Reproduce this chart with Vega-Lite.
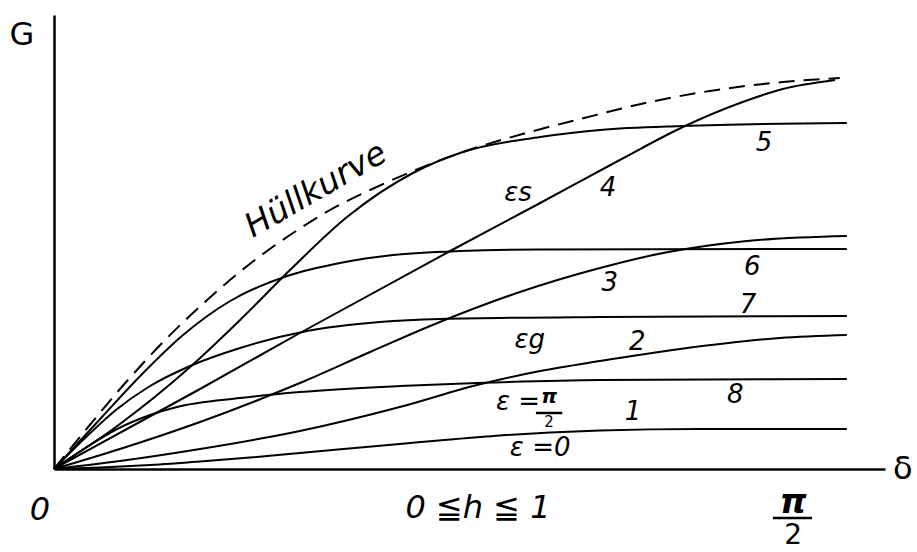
{
  "$schema": "https://vega.github.io/schema/vega-lite/v6.json",
  "width": 831,
  "height": 454,
  "autosize": {"type": "none"},
  "padding": {"left": 54, "top": 15, "right": 32, "bottom": 83},
  "background": "white",
  "view": {"stroke": null},
  "config": {
    "axis": {"domain": true, "domainColor": "black", "domainWidth": 2.5, "ticks": false, "labels": false, "grid": false, "title": null},
    "text": {"font": "DejaVu Sans", "fontStyle": "italic", "color": "black"}
  },
  "datasets": {
    "curves": [
      {"c": "1", "d": 0, "G": 0}, {"c": "1", "d": 0.098, "G": 0.015}, {"c": "1", "d": 0.204, "G": 0.04}, {"c": "1", "d": 0.310, "G": 0.075}, {"c": "1", "d": 0.416, "G": 0.115}, {"c": "1", "d": 0.522, "G": 0.16}, {"c": "1", "d": 0.734, "G": 0.25}, {"c": "1", "d": 0.841, "G": 0.295}, {"c": "1", "d": 0.947, "G": 0.335}, {"c": "1", "d": 1.053, "G": 0.365}, {"c": "1", "d": 1.159, "G": 0.385}, {"c": "1", "d": 1.371, "G": 0.40}, {"c": "1", "d": 1.683, "G": 0.40},
      {"c": "2", "d": 0, "G": 0}, {"c": "2", "d": 0.140, "G": 0.08}, {"c": "2", "d": 0.310, "G": 0.20}, {"c": "2", "d": 0.522, "G": 0.38}, {"c": "2", "d": 0.734, "G": 0.62}, {"c": "2", "d": 0.898, "G": 0.84}, {"c": "2", "d": 1.032, "G": 0.98}, {"c": "2", "d": 1.159, "G": 1.08}, {"c": "2", "d": 1.329, "G": 1.20}, {"c": "2", "d": 1.541, "G": 1.31}, {"c": "2", "d": 1.683, "G": 1.34},
      {"c": "3", "d": 0, "G": 0}, {"c": "3", "d": 0.140, "G": 0.20}, {"c": "3", "d": 0.310, "G": 0.47}, {"c": "3", "d": 0.444, "G": 0.71}, {"c": "3", "d": 0.522, "G": 0.86}, {"c": "3", "d": 0.671, "G": 1.17}, {"c": "3", "d": 0.819, "G": 1.47}, {"c": "3", "d": 0.989, "G": 1.77}, {"c": "3", "d": 1.159, "G": 2.01}, {"c": "3", "d": 1.293, "G": 2.16}, {"c": "3", "d": 1.471, "G": 2.28}, {"c": "3", "d": 1.683, "G": 2.33},
      {"c": "4", "d": 0, "G": 0}, {"c": "4", "d": 0.310, "G": 0.80}, {"c": "4", "d": 0.522, "G": 1.36}, {"c": "4", "d": 0.841, "G": 2.18}, {"c": "4", "d": 1.032, "G": 2.66}, {"c": "4", "d": 1.201, "G": 3.09}, {"c": "4", "d": 1.335, "G": 3.42}, {"c": "4", "d": 1.456, "G": 3.66}, {"c": "4", "d": 1.547, "G": 3.80}, {"c": "4", "d": 1.658, "G": 3.89},
      {"c": "5", "d": 0, "G": 0}, {"c": "5", "d": 0.140, "G": 0.45}, {"c": "5", "d": 0.289, "G": 1.02}, {"c": "5", "d": 0.395, "G": 1.49}, {"c": "5", "d": 0.501, "G": 1.99}, {"c": "5", "d": 0.622, "G": 2.52}, {"c": "5", "d": 0.762, "G": 2.96}, {"c": "5", "d": 0.868, "G": 3.17}, {"c": "5", "d": 1.032, "G": 3.32}, {"c": "5", "d": 1.159, "G": 3.39}, {"c": "5", "d": 1.335, "G": 3.43}, {"c": "5", "d": 1.683, "G": 3.46},
      {"c": "6", "d": 0, "G": 0}, {"c": "6", "d": 0.098, "G": 0.50}, {"c": "6", "d": 0.183, "G": 0.93}, {"c": "6", "d": 0.274, "G": 1.34}, {"c": "6", "d": 0.374, "G": 1.68}, {"c": "6", "d": 0.495, "G": 1.93}, {"c": "6", "d": 0.607, "G": 2.06}, {"c": "6", "d": 0.720, "G": 2.14}, {"c": "6", "d": 0.862, "G": 2.18}, {"c": "6", "d": 1.032, "G": 2.195}, {"c": "6", "d": 1.683, "G": 2.20},
      {"c": "7", "d": 0, "G": 0}, {"c": "7", "d": 0.066, "G": 0.31}, {"c": "7", "d": 0.134, "G": 0.60}, {"c": "7", "d": 0.204, "G": 0.83}, {"c": "7", "d": 0.289, "G": 1.03}, {"c": "7", "d": 0.395, "G": 1.21}, {"c": "7", "d": 0.537, "G": 1.38}, {"c": "7", "d": 0.692, "G": 1.47}, {"c": "7", "d": 0.819, "G": 1.50}, {"c": "7", "d": 1.159, "G": 1.52}, {"c": "7", "d": 1.683, "G": 1.53},
      {"c": "8", "d": 0, "G": 0}, {"c": "8", "d": 0.066, "G": 0.21}, {"c": "8", "d": 0.134, "G": 0.40}, {"c": "8", "d": 0.204, "G": 0.54}, {"c": "8", "d": 0.261, "G": 0.62}, {"c": "8", "d": 0.395, "G": 0.71}, {"c": "8", "d": 0.522, "G": 0.77}, {"c": "8", "d": 0.734, "G": 0.83}, {"c": "8", "d": 0.898, "G": 0.86}, {"c": "8", "d": 1.159, "G": 0.89}, {"c": "8", "d": 1.683, "G": 0.90}
    ],
    "envelope": [
      {"d": 0, "G": 0}, {"d": 0.076, "G": 0.44}, {"d": 0.155, "G": 0.88}, {"d": 0.240, "G": 1.31}, {"d": 0.325, "G": 1.69}, {"d": 0.410, "G": 2.03}, {"d": 0.501, "G": 2.34}, {"d": 0.586, "G": 2.59}, {"d": 0.671, "G": 2.79}, {"d": 0.762, "G": 2.98}, {"d": 0.868, "G": 3.17}, {"d": 1.010, "G": 3.37}, {"d": 1.117, "G": 3.50}, {"d": 1.265, "G": 3.67}, {"d": 1.392, "G": 3.78}, {"d": 1.547, "G": 3.87}, {"d": 1.668, "G": 3.91}
    ],
    "labels": [
      {"k": "num", "t": "1", "d": 1.229, "G": 0.57},
      {"k": "num", "t": "2", "d": 1.238, "G": 1.27},
      {"k": "num", "t": "3", "d": 1.180, "G": 1.86},
      {"k": "num", "t": "4", "d": 1.176, "G": 2.81},
      {"k": "num", "t": "5", "d": 1.507, "G": 3.26},
      {"k": "num", "t": "6", "d": 1.482, "G": 2.02},
      {"k": "num", "t": "7", "d": 1.473, "G": 1.64},
      {"k": "num", "t": "8", "d": 1.446, "G": 0.74},
      {"k": "eps", "t": "εs", "d": 0.985, "G": 2.76},
      {"k": "eps", "t": "εg", "d": 1.010, "G": 1.29},
      {"k": "eps", "t": "ε =0", "d": 1.032, "G": 0.21},
      {"k": "eps", "t": "ε =", "d": 0.985, "G": 0.67},
      {"k": "fracpi", "t": "π", "d": 1.051, "G": 0.72},
      {"k": "frac2", "t": "2", "d": 1.051, "G": 0.47},
      {"k": "axis", "t": "0", "d": -0.030, "G": -0.41},
      {"k": "axis", "t": "0 ≦h ≦ 1", "d": 0.900, "G": -0.39},
      {"k": "axispi", "t": "π", "d": 1.569, "G": -0.34},
      {"k": "axis2", "t": "2", "d": 1.569, "G": -0.67},
      {"k": "sym", "t": "G", "d": -0.068, "G": 4.34},
      {"k": "sym", "t": "δ", "d": 1.802, "G": 0.0}
    ],
    "bars": [
      {"d": 1.023, "d2": 1.079, "G": 0.56},
      {"d": 1.526, "d2": 1.609, "G": -0.49}
    ],
    "title": [
      {"t": "Hüllkurve", "d": 0.556, "G": 2.79}
    ]
  },
  "layer": [
    {
      "data": {"name": "curves"},
      "mark": {"type": "line", "interpolate": "monotone", "color": "black", "strokeWidth": 2},
      "encoding": {
        "x": {"field": "d", "type": "quantitative", "scale": {"domain": [0, 1.764], "nice": false, "zero": false}, "axis": {"orient": "bottom"}},
        "y": {"field": "G", "type": "quantitative", "scale": {"domain": [0, 4.54], "nice": false, "zero": false}, "axis": {"orient": "left"}},
        "detail": {"field": "c"}
      }
    },
    {
      "data": {"name": "envelope"},
      "mark": {"type": "line", "interpolate": "monotone", "color": "black", "strokeWidth": 2, "strokeDash": [16, 9]},
      "encoding": {
        "x": {"field": "d", "type": "quantitative"},
        "y": {"field": "G", "type": "quantitative"}
      }
    },
    {
      "data": {"name": "bars"},
      "mark": {"type": "rule", "color": "black", "strokeWidth": 2.5, "clip": false},
      "encoding": {
        "x": {"field": "d", "type": "quantitative"},
        "x2": {"field": "d2"},
        "y": {"field": "G", "type": "quantitative"}
      }
    },
    {
      "data": {"name": "labels"},
      "transform": [{"filter": "datum.k == 'num' || datum.k == 'eps'"}],
      "mark": {"type": "text", "fontSize": 26, "align": "center", "baseline": "middle", "clip": false},
      "encoding": {
        "x": {"field": "d", "type": "quantitative"},
        "y": {"field": "G", "type": "quantitative"},
        "text": {"field": "t"}
      }
    },
    {
      "data": {"name": "labels"},
      "transform": [{"filter": "datum.k == 'fracpi'"}],
      "mark": {"type": "text", "fontSize": 20, "fontWeight": "bold", "align": "center", "baseline": "middle"},
      "encoding": {
        "x": {"field": "d", "type": "quantitative"},
        "y": {"field": "G", "type": "quantitative"},
        "text": {"field": "t"}
      }
    },
    {
      "data": {"name": "labels"},
      "transform": [{"filter": "datum.k == 'frac2'"}],
      "mark": {"type": "text", "fontSize": 15, "fontStyle": "normal", "align": "center", "baseline": "middle"},
      "encoding": {
        "x": {"field": "d", "type": "quantitative"},
        "y": {"field": "G", "type": "quantitative"},
        "text": {"field": "t"}
      }
    },
    {
      "data": {"name": "labels"},
      "transform": [{"filter": "datum.k == 'axis'"}],
      "mark": {"type": "text", "fontSize": 32, "align": "center", "baseline": "middle", "clip": false},
      "encoding": {
        "x": {"field": "d", "type": "quantitative"},
        "y": {"field": "G", "type": "quantitative"},
        "text": {"field": "t"}
      }
    },
    {
      "data": {"name": "labels"},
      "transform": [{"filter": "datum.k == 'axis2'"}],
      "mark": {"type": "text", "fontSize": 28, "fontStyle": "normal", "align": "center", "baseline": "middle", "clip": false},
      "encoding": {
        "x": {"field": "d", "type": "quantitative"},
        "y": {"field": "G", "type": "quantitative"},
        "text": {"field": "t"}
      }
    },
    {
      "data": {"name": "labels"},
      "transform": [{"filter": "datum.k == 'axispi'"}],
      "mark": {"type": "text", "fontSize": 34, "fontWeight": "bold", "align": "center", "baseline": "middle", "clip": false},
      "encoding": {
        "x": {"field": "d", "type": "quantitative"},
        "y": {"field": "G", "type": "quantitative"},
        "text": {"field": "t"}
      }
    },
    {
      "data": {"name": "labels"},
      "transform": [{"filter": "datum.k == 'sym'"}],
      "mark": {"type": "text", "fontSize": 32, "fontStyle": "normal", "align": "center", "baseline": "middle", "clip": false},
      "encoding": {
        "x": {"field": "d", "type": "quantitative"},
        "y": {"field": "G", "type": "quantitative"},
        "text": {"field": "t"}
      }
    },
    {
      "data": {"name": "title"},
      "mark": {"type": "text", "fontSize": 33, "angle": -30, "align": "center", "baseline": "middle"},
      "encoding": {
        "x": {"field": "d", "type": "quantitative"},
        "y": {"field": "G", "type": "quantitative"},
        "text": {"field": "t"}
      }
    }
  ]
}
